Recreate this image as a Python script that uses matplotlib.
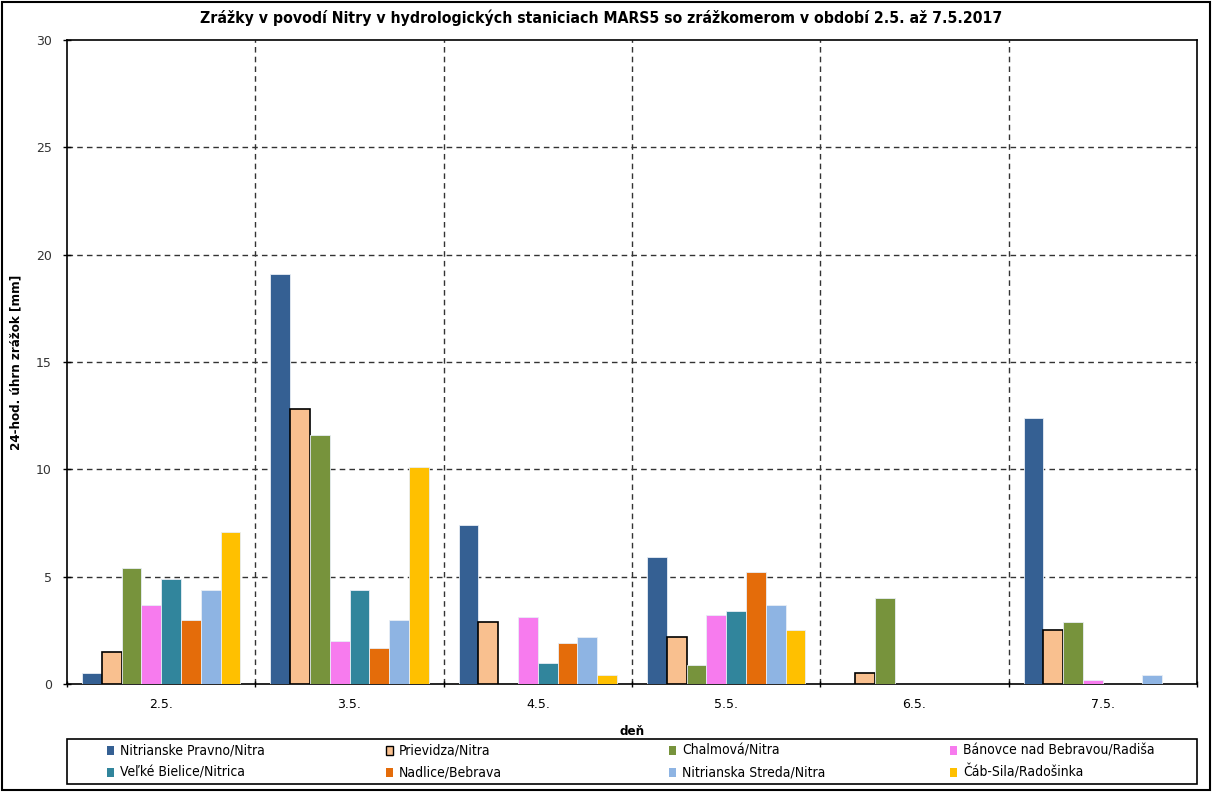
import numpy as np
import matplotlib
matplotlib.use("Agg")
import matplotlib.pyplot as plt
from matplotlib.patches import Rectangle

# denne zrazky [mm] podla stanic
days = ["2.5.", "3.5.", "4.5.", "5.5.", "6.5.", "7.5."]
stations = ["Nitrianske Pravno/Nitra", "Prievidza/Nitra", "Chalmová/Nitra",
            "Bánovce nad Bebravou/Radiša", "Veľké Bielice/Nitrica", "Nadlice/Bebrava",
            "Nitrianska Streda/Nitra", "Čáb-Sila/Radošinka"]
nitr_pravno = [0.5, 19.1, 7.4, 5.9, 0.0, 12.4]
prievidza = [1.5, 12.8, 2.9, 2.2, 0.5, 2.5]
chalmova = [5.4, 11.6, 0.0, 0.9, 4.0, 2.9]
banovce = [3.7, 2.0, 3.1, 3.2, 0.0, 0.2]
velke_bielice = [4.9, 4.4, 1.0, 3.4, 0.0, 0.0]
nadlice = [3.0, 1.7, 1.9, 5.2, 0.0, 0.0]
nitr_streda = [4.4, 3.0, 2.2, 3.7, 0.0, 0.4]
cab_sila = [7.1, 10.1, 0.4, 2.5, 0.0, 0.0]
series = [nitr_pravno, prievidza, chalmova, banovce, velke_bielice, nadlice, nitr_streda, cab_sila]
colors = ["#356093", "#F9C08F", "#77933C", "#F77BEE", "#31859C", "#E46C0A", "#8EB4E3", "#FFC000"]

cond = dict(family="DejaVu Sans", stretch="condensed")
W, H = 1212, 792

fig = plt.figure(figsize=(12.12, 7.92), dpi=100)
ax = fig.add_axes([67/W, 1 - 684/H, (1197-67)/W, (684-40)/H])

n = len(series)
bw = 1.0 / (n + 1.5)
x = np.arange(len(days))
for i, (vals, c) in enumerate(zip(series, colors)):
    pos = x - n*bw/2 + bw*(i + 0.5)
    if i == 1:
        ax.bar(pos, vals, bw, color=c, edgecolor="black", linewidth=1.2, zorder=3)
    else:
        ax.bar(pos, vals, bw, color=c, edgecolor="#e8eef5", linewidth=0.6, zorder=3)

ax.set_xlim(-0.5, len(days) - 0.5)
ax.set_ylim(0, 30)
ax.set_yticks(range(0, 31, 5))
ax.set_xticks(x)
ax.set_xticklabels(days)
ax.set_xticks(np.arange(-0.5, len(days)), minor=True)
ax.tick_params(axis="x", which="major", length=0, pad=10, labelsize=9)
ax.tick_params(axis="x", which="minor", length=4, direction="inout", width=1)
ax.tick_params(axis="y", length=6, direction="inout", width=1, labelsize=9,
               labelcolor="#333333", pad=8)

for v in range(5, 30, 5):
    ax.axhline(v, color="#333333", ls=(0, (4, 3)), lw=1, zorder=1)
for b in np.arange(0.5, len(days) - 1):
    ax.axvline(b, color="#333333", ls=(0, (4, 3)), lw=1, zorder=1)
for s in ax.spines.values():
    s.set_linewidth(1.2)

fig.suptitle("Zrážky v povodí Nitry v hydrologických staniciach MARS5 so zrážkomerom v období 2.5. až 7.5.2017",
             x=601/W, y=1 - 9/H, va="top", fontsize=11.3, fontweight="bold", **cond)
ax.set_xlabel("deň", fontsize=9.5, fontweight="bold", labelpad=10, **cond)
ax.set_ylabel("24-hod. úhrn zrážok [mm]", fontsize=9.5, fontweight="bold", labelpad=10, **cond)

# legenda: ram, 4 stlpce x 2 riadky
fig.patches.append(Rectangle((67/W, 1 - 784/H), (1197-67)/W, 45/H,
                             transform=fig.transFigure, fill=False, edgecolor="black", lw=1.2))
col_x = [107, 386, 669, 950]
row_y = [750, 772]
for k, (name, c) in enumerate(zip(stations, colors)):
    cx, cy = col_x[k % 4], row_y[k // 4]
    fig.patches.append(Rectangle((cx/W, 1 - (cy + 4.5)/H), 7/W, 9/H, transform=fig.transFigure,
                                 facecolor=c, edgecolor="black" if k == 1 else c,
                                 lw=1 if k == 1 else 0))
    fig.text((cx + 13)/W, 1 - (cy + 5)/H, name, va="baseline", ha="left", fontsize=10, **cond)

fig.patches.append(Rectangle((0.002, 0.002), 0.996, 0.996, transform=fig.transFigure,
                             fill=False, edgecolor="black", lw=1.5))

fig.savefig("out.png", dpi=100)
